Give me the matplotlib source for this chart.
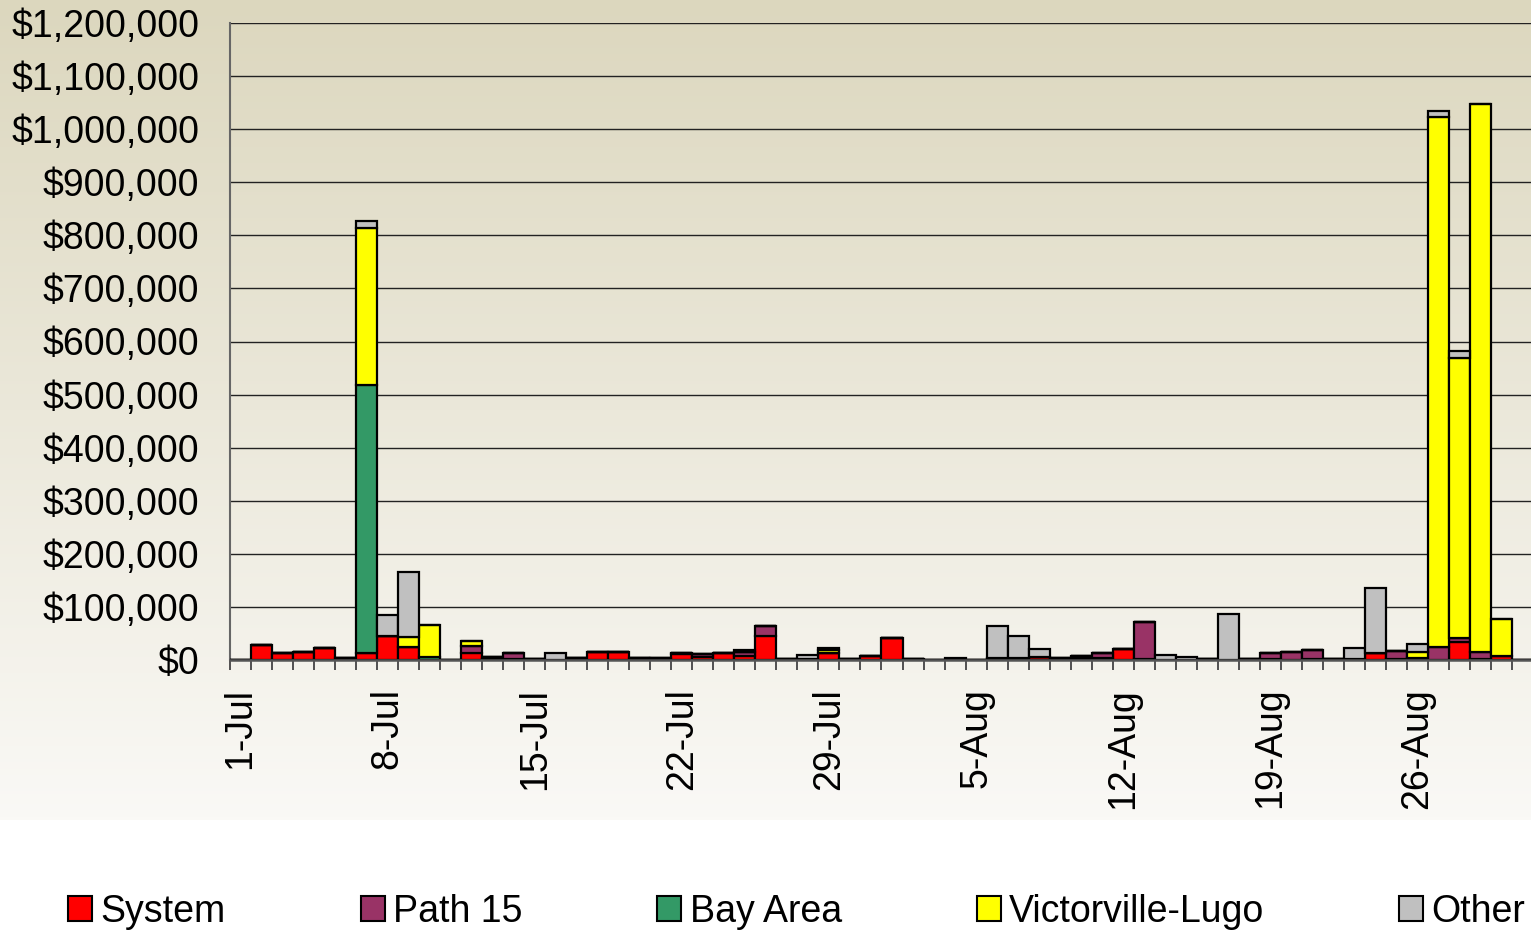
import matplotlib
matplotlib.use('Agg')
import matplotlib.pyplot as plt
import numpy as np
from matplotlib.patches import Patch
from matplotlib.ticker import FuncFormatter

plt.rcParams['font.family'] = ['Liberation Sans', 'DejaVu Sans']

# Days 1-Jul .. 31-Aug
days = [f'{d}-Jul' for d in range(1, 32)] + [f'{d}-Aug' for d in range(1, 32)]

system = [0, 29000, 14000, 15000, 22000, 3000, 13000, 45000, 25000, 0,
          0, 14000, 2000, 2000, 1500, 0, 3000, 16000, 16000, 3000,
          2000, 11000, 6000, 14000, 8000, 45000, 1000, 1000, 14000, 1000,
          8000, 41000, 2000, 0, 0, 0, 2000, 2000, 5000, 2000,
          3000, 4000, 21000, 2000, 0, 0, 2000, 0, 2000, 1000,
          0, 2000, 2000, 2000, 14000, 2000, 1000, 0, 33000, 2000,
          7000, 0]
path15 = [0, 0, 0, 0, 0, 0, 0, 0, 0, 0,
          0, 12000, 4000, 11000, 0, 0, 0, 0, 0, 0,
          2000, 3000, 5000, 0, 7000, 19000, 1000, 0, 0, 1000,
          0, 0, 0, 0, 0, 0, 2000, 1000, 0, 1000,
          4000, 9000, 0, 69000, 0, 0, 0, 0, 0, 12000,
          15000, 16000, 0, 0, 0, 15000, 2000, 25000, 8000, 13000,
          1000, 0]
bay_area = [0] * 62
bay_area[6] = 505000
bay_area[9] = 6000
victorville = [0] * 62
victorville[6] = 295000
victorville[8] = 19000
victorville[9] = 60000
victorville[11] = 9000
victorville[28] = 5000
victorville[56] = 13000
victorville[57] = 997000
victorville[58] = 528000
victorville[59] = 1033000
victorville[60] = 70000
other = [0] * 62
other[6] = 14000
other[7] = 39000
other[8] = 122000
other[15] = 13000
other[24] = 3000
other[27] = 9000
other[28] = 3000
other[34] = 3000
other[36] = 60000
other[37] = 42000
other[38] = 15000
other[44] = 9000
other[45] = 5000
other[47] = 86000
other[53] = 20000
other[54] = 121000
other[56] = 15000
other[57] = 12000
other[58] = 14000

series = [('System', system, '#FF0000'),
          ('Path 15', path15, '#993366'),
          ('Bay Area', bay_area, '#339966'),
          ('Victorville-Lugo', victorville, '#FFFF00'),
          ('Other', other, '#C0C0C0')]

W, H = 1531, 932
fig = plt.figure(figsize=(W / 100, H / 100), dpi=100)
fig.patch.set_facecolor('white')

# gradient background behind the chart area
bg = fig.add_axes([0, 1 - 820 / H, 1, 820 / H], zorder=0)
top_c = np.array([220, 215, 190]) / 255
bot_c = np.array([250, 249, 246]) / 255
t = np.linspace(0, 1, 256)[:, None]
grad = top_c * (1 - t) + bot_c * t
bg.imshow(grad[:, None, :], aspect='auto', extent=[0, 1, 0, 1])
bg.axis('off')

ax = fig.add_axes([230 / W, 1 - 660 / H, 1303 / W, 637 / H], zorder=1)
ax.set_facecolor('none')

x = np.arange(len(days))
bottom = np.zeros(len(days))
for name, vals, col in series:
    v = np.array(vals, dtype=float)
    ax.bar(x, v, width=1.0, bottom=bottom, color=col, edgecolor='black',
           linewidth=1.6, label=name, zorder=3)
    bottom += v

ax.set_xlim(-0.5, len(days) - 0.5)
ax.set_ylim(0, 1200000)
ax.set_yticks(np.arange(0, 1200001, 100000))
ax.yaxis.set_major_formatter(FuncFormatter(lambda v, p: f'${v:,.0f}'))
ax.yaxis.grid(True, color='#222222', linewidth=1.0, zorder=1)
ax.set_axisbelow(True)

ax.set_xticks(x[::7])
ax.set_xticklabels(days[::7], rotation=90, va='top', ha='center')
ax.set_xticks(np.arange(-0.5, len(days)), minor=True)
ax.tick_params(axis='x', which='major', length=0, pad=20, labelsize=27)
ax.tick_params(axis='x', which='minor', length=7, width=1.3, color='#444444', direction='out')
ax.tick_params(axis='y', length=0, pad=22, labelsize=27)

for s in ['top', 'right']:
    ax.spines[s].set_visible(False)
ax.spines['left'].set_color('#666666')
ax.spines['left'].set_linewidth(1.5)
ax.spines['bottom'].set_color('#555555')
ax.spines['bottom'].set_linewidth(1.8)
ax.spines['bottom'].set_zorder(4)

handles = [Patch(facecolor=c, edgecolor='black', linewidth=1.5) for _, _, c in series]
labels = [n for n, _, _ in series]
fig.legend(handles, labels, loc='center left', bbox_to_anchor=(68 / W, 1 - 912 / H),
           ncol=5, frameon=False, fontsize=27, handlelength=0.64, handleheight=0.64,
           handletextpad=0.22, columnspacing=3.6, borderpad=0, borderaxespad=0)

fig.savefig('out.png', dpi=100, facecolor='white')
